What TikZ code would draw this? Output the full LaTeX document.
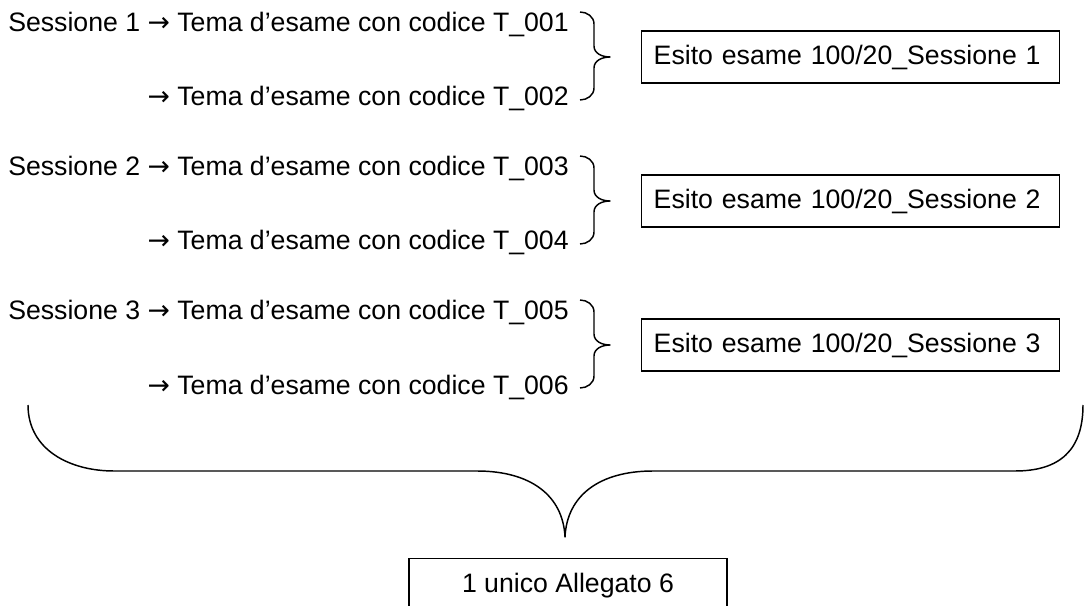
\documentclass[tikz,border=0pt]{standalone}
\usepackage{fontspec}
\setmainfont{Liberation Sans}
\newfontfamily\arrfont{DejaVu Sans}
\newcommand{\rarr}{{\arrfont →}}
\usetikzlibrary{calc}
\tikzset{
  txt/.style={font=\fontsize{20}{24}\selectfont, inner sep=0pt},
  esito/.style={draw, line width=1.1pt, font=\fontsize{20}{24}\selectfont,
    minimum width=312pt, minimum height=39pt, text width=295.5pt, inner xsep=9pt, align=left, anchor=west},
  bracepath/.style={line width=1.1pt, line join=round}
}
\begin{document}
\begin{tikzpicture}[x=0.75pt,y=-0.75pt]
\fill[white] (0,0) rectangle (1086,606);
\useasboundingbox (0,0) rectangle (1086,606);
% rows
\foreach \r/\a/\b/\c in {1/001/002/0,2/003/004/144,3/005/006/288}{
  \node[txt, anchor=base west] (s\r a) at (8,32+\c) {Sessione \r\ \rarr\ Tema d’esame con codice T\_\a};
  \node[txt, anchor=base east] (s\r b) at ($(s\r a.base east)+(0,74)$) {\rarr\ Tema d’esame con codice T\_\b};
  \node[esito] (e\r) at (641,57+\c) {Esito esame 100/20\_Sessione \r};
  \draw[bracepath] (580,12+\c) to[out=0,in=90] (594,24+\c) -- (594,46+\c)
     to[out=-90,in=180] (610,57+\c) to[out=180,in=90] (594,68+\c) -- (594,88+\c)
     to[out=-90,in=0] (580,100+\c);
}
% big brace
\coordinate (bl) at (28,405);
\coordinate (br) at (1083,405);
\coordinate (tip) at (565,537);
\draw[bracepath] (bl) .. controls (28,450) and (70,471) .. (114,471) -- (477,471)
   .. controls (530,471) and (563,495) .. (tip)
   .. controls (567,495) and (600,471) .. (653,471) -- (1015,471)
   .. controls (1060,471) and (1083,450) .. (br);
\node[draw, line width=1.1pt, txt, minimum width=238.5pt, minimum height=40.5pt, anchor=north] (all) at (568,558) {1 unico Allegato 6};
\end{tikzpicture}
\end{document}
